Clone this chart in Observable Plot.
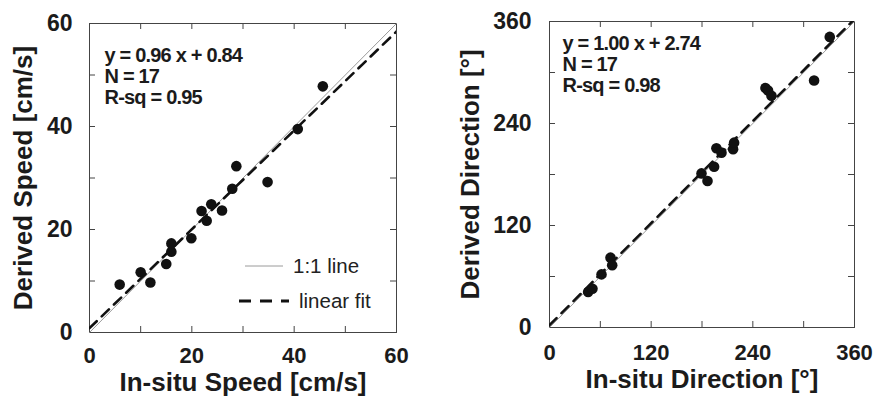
<!DOCTYPE html>
<html>
<head>
<meta charset="utf-8">
<script src="https://cdn.jsdelivr.net/npm/d3@7"></script>
<script src="https://cdn.jsdelivr.net/npm/@observablehq/plot@0.6"></script>
<style>
  body { margin: 0; background: #fff; }
  #wrap { position: relative; width: 876px; height: 404px; overflow: hidden;
          font-family: "Liberation Sans", Arial, sans-serif; color: #1b1b1b; }
  .panel { position: absolute; top: 0; }
  .legend { position: absolute; display: flex; align-items: center; font-size: 20.5px; color: #222; white-space: nowrap; }
  .legend svg { display: block; margin-right: 10px; }
</style>
</head>
<body>
<div id="wrap"></div>
<script>
// Current speed: in-situ vs derived (cm/s)
const speedInSitu  = [5.9, 10.0, 11.9, 15.0, 16.0, 16.0, 19.9, 21.9, 22.9, 23.8, 25.9, 27.9, 28.7, 34.8, 40.7, 45.6];
const speedDerived = [9.3, 11.7, 9.7, 13.3, 15.7, 17.3, 18.3, 23.6, 21.7, 24.9, 23.7, 27.9, 32.3, 29.2, 39.5, 47.8];
const speedFit = [0.96, 0.84];      // slope, intercept
const speedStats = [17, 0.95];      // N, R-sq
const speedTicks = [0, 20, 40, 60];
const speedMinorTicks = [0, 10, 20, 30, 40, 50, 60];

// Current direction: in-situ vs derived (degrees)
const dirInSitu  = [45.6, 50.7, 61.4, 72, 74, 179.4, 186.5, 194.3, 197, 203, 216.7, 217.9, 254.9, 258, 262, 312.3, 330.8];
const dirDerived = [41.7, 45.6, 62.5, 82.2, 73.2, 181.3, 172.3, 189.2, 210.8, 205.7, 209.7, 217.5, 281.7, 278.8, 272.6, 290.6, 341.9];
const dirFit = [1.00, 2.74];
const dirStats = [17, 0.98];
const dirTicks = [0, 120, 240, 360];
const dirMinorTicks = [0, 60, 120, 180, 240, 300, 360];

const INK = "#1b1b1b";
const TICK_LEN = 6;

function panel({xs, ys, fit, stats, ticks, minor, xTitle, yTitle, m, noteDx, noteDy, yTitleDx, xTitleDy, xPad, yPad}) {
  const W = 438, H = 404;
  const fw = W - m[0] - m[1], fh = H - m[2] - m[3];
  const lo = ticks[0], hi = ticks[ticks.length - 1];
  const pts = xs.map((x, i) => ({x, y: ys[i]}));
  const identity = [lo, hi].map(v => ({x: v, y: v}));
  const fitLine = [lo, hi].map(v => ({x: v, y: fit[0] * v + fit[1]}));
  const note = `y = ${fit[0].toFixed(2)} x + ${fit[1].toFixed(2)}\nN = ${stats[0]}\nR-sq = ${stats[1].toFixed(2)}`;
  // short inward ticks on all four sides of the frame
  const tick = {stroke: "#444", strokeOpacity: 1, strokeWidth: 1};
  const svg = Plot.plot({
    width: W, height: H,
    marginLeft: m[0], marginRight: m[1], marginTop: m[2], marginBottom: m[3],
    x: {domain: [lo, hi], axis: null},
    y: {domain: [lo, hi], axis: null},
    style: {fontFamily: '"Liberation Sans", Arial, sans-serif', color: INK, background: "transparent", overflow: "visible"},
    marks: [
      Plot.frame({stroke: "#444", strokeWidth: 1}),
      Plot.gridX(minor, {...tick, insetTop: fh - TICK_LEN}),
      Plot.gridX(minor, {...tick, insetBottom: fh - TICK_LEN}),
      Plot.gridY(minor, {...tick, insetRight: fw - TICK_LEN}),
      Plot.gridY(minor, {...tick, insetLeft: fw - TICK_LEN}),
      Plot.axisX(ticks, {anchor: "bottom", tickSize: 0, tickPadding: xPad, fontSize: 22, fontWeight: "bold", label: null}),
      Plot.axisY(ticks, {anchor: "left", tickSize: 0, tickPadding: yPad, fontSize: 23, fontWeight: "bold", label: null}),
      Plot.line(identity, {x: "x", y: "y", stroke: "#9a9a9a", strokeWidth: 1}),
      Plot.line(fitLine, {x: "x", y: "y", stroke: "#111", strokeWidth: 2.6, strokeDasharray: "10,7", clip: true}),
      Plot.dot(pts, {x: "x", y: "y", r: 5.3, fill: "#111", stroke: "none"}),
      Plot.text([note], {frameAnchor: "top-left", dx: noteDx, dy: noteDy, lineAnchor: "top", textAnchor: "start",
                         fontSize: 20, fontWeight: "bold", lineHeight: 1.05, fill: INK}),
      Plot.text([xTitle], {frameAnchor: "bottom", dy: xTitleDy, textAnchor: "middle", fontSize: 26, fontWeight: "bold", fill: INK}),
      Plot.text([yTitle], {frameAnchor: "left", dx: yTitleDx, rotate: -90, textAnchor: "middle", fontSize: 26, fontWeight: "bold", fill: INK})
    ]
  });
  // the fit summary is set a little tighter than the rest
  d3.select(svg).selectAll("text").filter(function () { return this.textContent.includes("R-sq"); })
    .style("letter-spacing", "-0.8px");
  return svg;
}

const wrap = document.getElementById("wrap");

const left = panel({
  xs: speedInSitu, ys: speedDerived, fit: speedFit, stats: speedStats,
  ticks: speedTicks, minor: speedMinorTicks,
  xTitle: "In-situ Speed [cm/s]", yTitle: "Derived Speed [cm/s]",
  m: [89, 42, 23, 72], noteDx: 15, noteDy: 24, yTitleDx: -66, xTitleDy: 58, xPad: 15, yPad: 17
});
left.classList.add("panel");
left.style.left = "0px";
wrap.appendChild(left);

const right = panel({
  xs: dirInSitu, ys: dirDerived, fit: dirFit, stats: dirStats,
  ticks: dirTicks, minor: dirMinorTicks,
  xTitle: "In-situ Direction [°]", yTitle: "Derived Direction [°]",
  m: [111, 22, 21, 77], noteDx: 13, noteDy: 14, yTitleDx: -79, xTitleDy: 60, xPad: 17, yPad: 18
});
right.classList.add("panel");
right.style.left = "438px";
wrap.appendChild(right);

// Line-style key inside the speed panel
const keys = [
  {label: "1:1 line", stroke: "#9a9a9a", width: 1, dash: null, left: 245, top: 254, w: 38},
  {label: "linear fit", stroke: "#111", width: 3, dash: "12,9", left: 239, top: 289, w: 50}
];
for (const k of keys) {
  const row = document.createElement("div");
  row.className = "legend";
  row.style.left = k.left + "px";
  row.style.top = k.top + "px";
  const svg = d3.create("svg").attr("width", k.w).attr("height", 24);
  svg.append("line").attr("x1", 0).attr("x2", k.w).attr("y1", 12).attr("y2", 12)
    .attr("stroke", k.stroke).attr("stroke-width", k.width).attr("stroke-dasharray", k.dash);
  row.appendChild(svg.node());
  const span = document.createElement("span");
  span.textContent = k.label;
  row.appendChild(span);
  wrap.appendChild(row);
}
</script>
</body>
</html>
